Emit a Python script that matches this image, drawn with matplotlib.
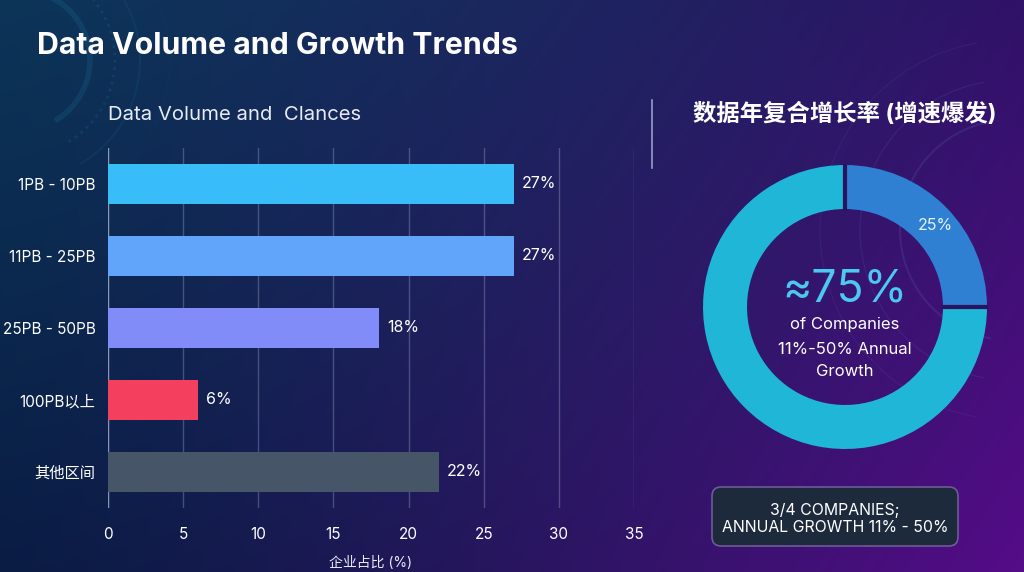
import matplotlib
matplotlib.use("Agg")
import matplotlib.pyplot as plt
import numpy as np
from matplotlib.patches import FancyBboxPatch, Arc
from matplotlib.colors import LinearSegmentedColormap

plt.rcParams['font.family'] = ['Inter', 'Noto Sans CJK SC', 'DejaVu Sans']

# ---- data ----
categories = ["1PB - 10PB", "11PB - 25PB", "25PB - 50PB", "100PB以上", "其他区间"]
values = [27, 27, 18, 6, 22]
bar_colors = ["#38bdf8", "#60a5fa", "#818cf8", "#f43f5e", "#475569"]
x_ticks = [0, 5, 10, 15, 20, 25, 30, 35]
donut_labels = ["25%", ""]
donut_values = [25, 75]
donut_colors = ["#2f7fd2", "#1fb6d8"]

W, H = 1024, 572
fig = plt.figure(figsize=(W / 100, H / 100), dpi=100)

# ---- background gradient ----
bg = fig.add_axes([0, 0, 1, 1])
bg.set_axis_off()
xx = np.linspace(0, 1, 300)
yy = np.linspace(0, 1, 200)
X, Y = np.meshgrid(xx, yy)
c_tl = np.array([0x0c, 0x35, 0x58]) / 255
c_bl = np.array([0x0a, 0x1c, 0x44]) / 255
c_tr = np.array([0x30, 0x12, 0x68]) / 255
c_br = np.array([0x55, 0x0c, 0x88]) / 255
t = X[..., None] ** 1.3
v = Y[..., None]
left = c_tl * (1 - v) + c_bl * v
right = c_tr * (1 - v) + c_br * v
img = left * (1 - t) + right * t
bg.imshow(img, extent=[0, W, H, 0], aspect='auto', zorder=0)
bg.set_xlim(0, W)
bg.set_ylim(H, 0)
# decorative faint arcs
for r, lw, a, ls in [(70, 4, 0.12, '-'), (95, 2, 0.12, ':'), (120, 1.5, 0.08, '-'), (150, 1, 0.07, ':')]:
    bg.add_patch(Arc((20, 60), 2 * r, 2 * r, theta1=-80, theta2=60, color="#2aa8d8", lw=lw, alpha=a, ls=ls))
for r, lw, a in [(110, 1.5, 0.10), (150, 1, 0.08), (190, 1, 0.06)]:
    bg.add_patch(Arc((1010, 230), 2 * r, 2 * r, theta1=100, theta2=260, color="#8fb5ff", lw=lw, alpha=a))
for r, lw, a in [(70, 3, 0.15), (100, 2, 0.12)]:
    bg.add_patch(Arc((820, 620), 2 * r, 2 * r, theta1=20, theta2=90, color="#8fb5ff", lw=lw, alpha=a))
# divider line
bg.plot([652, 652], [100, 168], color="#c8d4f0", lw=1.2, alpha=0.7)

# ---- title texts ----
fig.text(37 / W, 1 - 46 / H, "Data Volume and Growth Trends", color="white",
         fontsize=21.8, fontweight='bold', va='center', ha='left')
fig.text(108 / W, 1 - 115 / H, "Data Volume and  Clances", color="#e6ebf5",
         fontsize=14.6, va='center', ha='left')
fig.text(845 / W, 1 - 114 / H, "数据年复合增长率 (增速爆发)", color="white",
         fontsize=16.8, fontweight='bold', va='center', ha='center')

# ---- bar chart ----
ax = fig.add_axes([108 / W, 1 - 508 / H, (634 - 108) / W, (508 - 148) / H])
ax.patch.set_alpha(0)
ypos = np.arange(len(categories))
ax.barh(ypos, values, height=0.56, color=bar_colors, zorder=3)
ax.set_xlim(0, 35)
ax.set_ylim(len(categories) - 0.5, -0.5)
ax.set_yticks(ypos)
ax.set_yticklabels(categories, color="white", fontsize=11)
ax.set_xticks(x_ticks)
ax.set_xticklabels([str(x) for x in x_ticks], color="white", fontsize=11)
ax.tick_params(length=0, pad=9)
ax.tick_params(axis='x', pad=14)
for s in ax.spines.values():
    s.set_visible(False)
ax.grid(axis='x', color="#b8c4e0", alpha=0.3, lw=1, zorder=0)
ax.axvline(0, color="#c8d4f0", alpha=0.55, lw=1, zorder=1)
for yv, val in zip(ypos, values):
    ax.text(val + 0.55, yv, f"{val}%", color="white", fontsize=11.5, va='center', ha='left')
ax.set_xlabel("企业占比 (%)", color="#e6ebf5", fontsize=10, labelpad=10)

# ---- donut ----
cx, cy, R = 845, 307, 142
half = 160
dax = fig.add_axes([(cx - half) / W, 1 - (cy + half) / H, 2 * half / W, 2 * half / H])
dax.set_axis_off()
wedges, _ = dax.pie(donut_values, colors=donut_colors, startangle=90, counterclock=False,
                    radius=1, wedgeprops=dict(width=0.31, linewidth=0))
# thin gaps between segments
inner = 1 - 0.31
for ang in [90, 0]:
    a = np.deg2rad(ang)
    dax.plot([inner * 0.98 * np.cos(a), 1.01 * np.cos(a)], [inner * 0.98 * np.sin(a), 1.01 * np.sin(a)],
             color="#2a1460", lw=3, solid_capstyle='butt')
lim = half / R
dax.set_xlim(-lim, lim)
dax.set_ylim(-lim, lim)
dax.set_aspect('equal')
dax.text((935 - cx) / R, (cy - 225) / R, donut_labels[0], color="#dff4ff", fontsize=11.5,
         ha='center', va='center')
dax.text(0, (cy - 290) / R, "≈75%", color="#4cc9f0", fontsize=32, ha='center', va='center')
dax.text(0, (cy - 324) / R, "of Companies", color="white", fontsize=12, ha='center', va='center')
dax.text(0, (cy - 350) / R, "11%-50% Annual", color="white", fontsize=12, ha='center', va='center')
dax.text(0, (cy - 371) / R, "Growth", color="white", fontsize=12, ha='center', va='center')

# ---- callout box ----
box = FancyBboxPatch((712, 487), 246, 59, boxstyle="round,pad=0,rounding_size=9",
                     facecolor="#1d2a3c", edgecolor="#6e5a96", lw=1.2, zorder=5)
bg.add_patch(box)
bg.text(835, 510, "3/4 COMPANIES;", color="white", fontsize=11.4, ha='center', va='center', zorder=6)
bg.text(835, 527, "ANNUAL GROWTH 11% - 50%", color="white", fontsize=11.4, ha='center', va='center', zorder=6)

fig.savefig("out.png", dpi=100)
